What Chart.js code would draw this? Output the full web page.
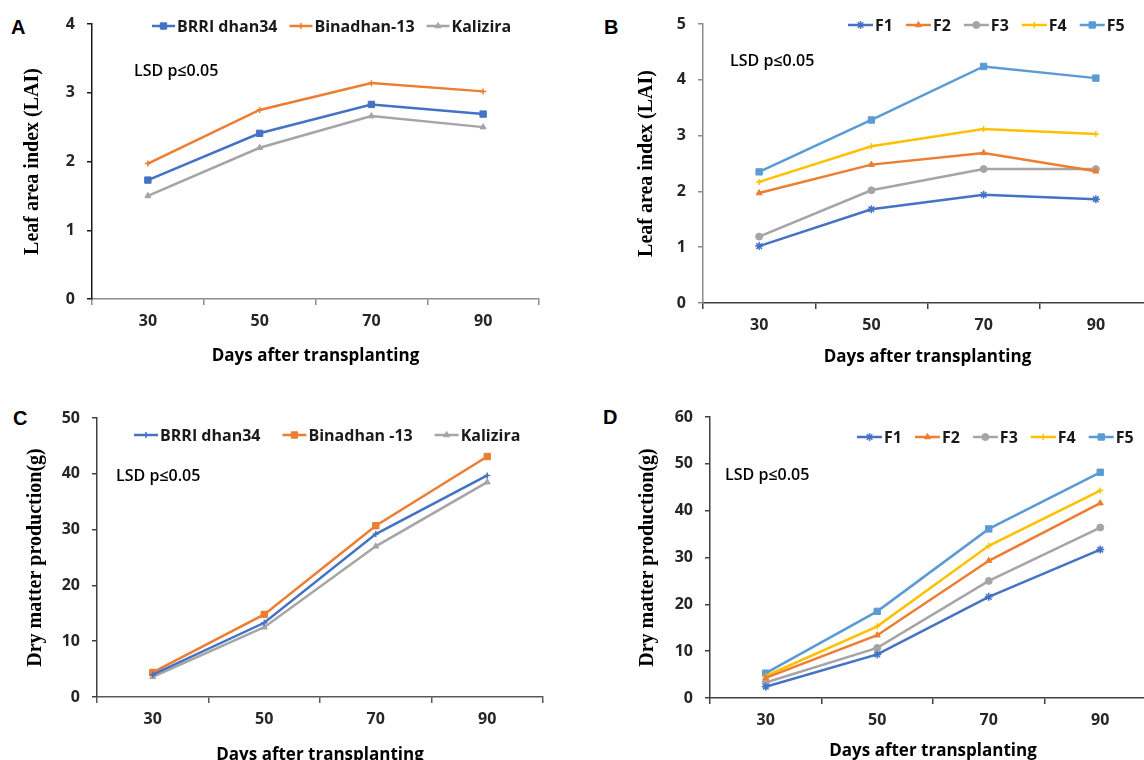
<!DOCTYPE html>
<html>
<head>
<meta charset="utf-8">
<title>Leaf area index and dry matter production</title>
<script src="https://cdn.jsdelivr.net/npm/chart.js"></script>
<style>
    html, body { margin: 0; padding: 0; background: #fff; }
    body { width: 1144px; height: 760px; overflow: hidden; position: relative; }
    canvas { position: absolute; }
    .panel-letter { position: absolute; font: bold 20px "Liberation Sans", Arial, sans-serif; color: #000; line-height: 22px; }
</style>
</head>
<body>
<div class="panel-letter" style="left:11px; top:16px;">A</div>
<div class="panel-letter" style="left:604px; top:16px;">B</div>
<div class="panel-letter" style="left:13px; top:407px;">C</div>
<div class="panel-letter" style="left:603px; top:406px;">D</div>

<canvas id="chartA" width="548" height="369" style="left:0; top:0;"></canvas>
<canvas id="chartB" width="540" height="370" style="left:620px; top:0;"></canvas>
<canvas id="chartC" width="552" height="378" style="left:0; top:390px;"></canvas>
<canvas id="chartD" width="544" height="374" style="left:620px; top:390px;"></canvas>

<script>
// categories (days after transplanting)
const days = ["30", "50", "70", "90"];

// legend names
const varietiesLai = ["BRRI dhan34", "Binadhan-13", "Kalizira"];
const varietiesDm = ["BRRI dhan34", "Binadhan -13", "Kalizira"];
const fertNames = ["F1", "F2", "F3", "F4", "F5"];

// A: leaf area index by variety
const laiBrri = [1.73, 2.41, 2.83, 2.69];
const laiBina = [1.97, 2.75, 3.14, 3.02];
const laiKali = [1.50, 2.20, 2.66, 2.50];

// B: leaf area index by fertilizer
const laiF1 = [1.02, 1.68, 1.94, 1.86];
const laiF2 = [1.97, 2.48, 2.69, 2.36];
const laiF3 = [1.19, 2.02, 2.40, 2.40];
const laiF4 = [2.17, 2.81, 3.12, 3.03];
const laiF5 = [2.35, 3.28, 4.24, 4.03];

// C: dry matter by variety
const dmBrri = [4.0, 13.3, 29.2, 39.7];
const dmBina = [4.4, 14.8, 30.7, 43.1];
const dmKali = [3.6, 12.5, 27.0, 38.5];

// D: dry matter by fertilizer
const dmF1 = [2.4, 9.3, 21.6, 31.7];
const dmF2 = [4.3, 13.4, 29.3, 41.6];
const dmF3 = [3.3, 10.7, 25.0, 36.4];
const dmF4 = [4.7, 15.3, 32.5, 44.3];
const dmF5 = [5.3, 18.5, 36.1, 48.2];

// y tick labels
const ticksA = [0, 1, 2, 3, 4];
const ticksB = [0, 1, 2, 3, 4, 5];
const ticksC = [0, 10, 20, 30, 40, 50];
const ticksD = [0, 10, 20, 30, 40, 50, 60];

const noteText = "LSD p\u22640.05";
const xTitle = "Days after transplanting";

const colors = {
    blue: "#4472C4",
    orange: "#ED7D31",
    gray: "#A5A5A5",
    yellow: "#FFC000",
    sky: "#5B9BD5"
};

const sansFont = '"Open Sans", "Noto Sans", sans-serif';
const serifFont = '"Liberation Serif", "Times New Roman", serif';

function series(label, data, color, style, radius) {
    const thin = style === "cross" || style === "star";
    return {
        label: label,
        data: data,
        borderColor: color,
        backgroundColor: color,
        pointBackgroundColor: color,
        pointBorderColor: color,
        pointStyle: style,
        pointRadius: radius,
        pointBorderWidth: thin ? 1.5 : 1,
        borderWidth: 2.5,
        tension: 0,
        fill: false
    };
}

// note text + legend with line and marker, drawn inside the plot area
const overlay = {
    id: "overlay",
    afterDraw: function(chart, args, opts) {
        const ctx = chart.ctx;
        const area = chart.chartArea;
        ctx.save();

        ctx.fillStyle = "#000";
        ctx.textBaseline = "middle";
        ctx.textAlign = "left";
        ctx.font = "600 16px " + sansFont;
        ctx.fillText(noteText, area.left + opts.noteX, area.top + opts.noteY);

        ctx.font = "bold 16px " + sansFont;
        let x = area.left + opts.legX;
        const y = area.top + opts.legY;
        chart.data.datasets.forEach(function(ds) {
            ctx.strokeStyle = ds.borderColor;
            ctx.fillStyle = ds.borderColor;
            ctx.lineWidth = 2.5;
            ctx.beginPath();
            ctx.moveTo(x, y);
            ctx.lineTo(x + opts.lineLen, y);
            ctx.stroke();
            ctx.lineWidth = ds.pointBorderWidth;
            Chart.helpers.drawPoint(ctx, {
                pointStyle: ds.pointStyle,
                radius: ds.pointRadius,
                borderWidth: ds.pointBorderWidth,
                rotation: 0
            }, x + opts.lineLen / 2, y);
            x += opts.lineLen + 2;
            ctx.fillStyle = "#1a1a1a";
            ctx.fillText(ds.label, x, y + 1);
            x += ctx.measureText(ds.label).width + opts.gap;
        });
        ctx.restore();
    }
};

function buildChart(id, cfg) {
    const ticks = cfg.ticks;
    return new Chart(document.getElementById(id), {
        type: "line",
        data: {
            labels: days,
            datasets: cfg.datasets
        },
        options: {
            responsive: false,
            animation: false,
            layout: { padding: cfg.padding },
            plugins: {
                legend: { display: false },
                tooltip: { enabled: false },
                overlay: cfg.overlay
            },
            scales: {
                x: {
                    offset: true,
                    grid: {
                        offset: true,
                        drawOnChartArea: false,
                        drawTicks: true,
                        tickLength: 6,
                        color: cfg.xColor,
                        lineWidth: 1.5
                    },
                    border: { color: cfg.xColor, width: 1.5 },
                    ticks: {
                        color: "#262626",
                        padding: 7,
                        maxRotation: 0,
                        font: { family: sansFont, size: 16, weight: "bold" }
                    },
                    title: {
                        display: true,
                        text: xTitle,
                        color: "#000",
                        padding: { top: 0, bottom: 3 },
                        font: { family: sansFont, size: 17, weight: "bold" }
                    },
                    afterFit: function(scale) {
                        scale.height = cfg.xHeight;
                    }
                },
                y: {
                    min: ticks[0],
                    max: ticks[ticks.length - 1],
                    grid: {
                        drawOnChartArea: false,
                        drawTicks: true,
                        tickLength: 5,
                        color: cfg.yColor,
                        lineWidth: 1.5
                    },
                    border: { color: cfg.yColor, width: 1.5 },
                    ticks: {
                        stepSize: ticks[1] - ticks[0],
                        color: "#262626",
                        padding: 12,
                        font: { family: sansFont, size: 16, weight: "bold" }
                    },
                    title: {
                        display: true,
                        text: cfg.yTitle,
                        color: "#000",
                        padding: { top: cfg.yTitlePad, bottom: 0 },
                        font: { family: serifFont, size: 20, weight: "bold" }
                    },
                    afterFit: function(scale) {
                        scale.width = cfg.yWidth;
                    }
                }
            }
        },
        plugins: [overlay]
    });
}

document.addEventListener("DOMContentLoaded", function() {
    buildChart("chartA", {
        ticks: ticksA,
        yTitle: "Leaf area index (LAI)",
        padding: { left: 0, top: 24, right: 9, bottom: 0 },
        yWidth: 92,
        yTitlePad: 21,
        xHeight: 70,
        xColor: "#8c8c8c",
        yColor: "#1a1a1a",
        overlay: { noteX: 42, noteY: 47, legX: 60, legY: 2, lineLen: 23, gap: 12 },
        datasets: [
            series(varietiesLai[0], laiBrri, colors.blue, "rect", 4.5),
            series(varietiesLai[1], laiBina, colors.orange, "cross", 3),
            series(varietiesLai[2], laiKali, colors.gray, "triangle", 3.5)
        ]
    });

    buildChart("chartB", {
        ticks: ticksB,
        yTitle: "Leaf area index (LAI)",
        padding: { left: 0, top: 24, right: 8, bottom: 0 },
        yWidth: 83,
        yTitlePad: 15,
        xHeight: 67,
        xColor: "#404040",
        yColor: "#8c8c8c",
        overlay: { noteX: 27, noteY: 37, legX: 145, legY: 1, lineLen: 25, gap: 13 },
        datasets: [
            series(fertNames[0], laiF1, colors.blue, "star", 4),
            series(fertNames[1], laiF2, colors.orange, "triangle", 3.5),
            series(fertNames[2], laiF3, colors.gray, "circle", 3.5),
            series(fertNames[3], laiF4, colors.yellow, "cross", 3),
            series(fertNames[4], laiF5, colors.sky, "rect", 4.5)
        ]
    });

    buildChart("chartC", {
        ticks: ticksC,
        yTitle: "Dry matter production(g)",
        padding: { left: 0, top: 28, right: 9, bottom: 0 },
        yWidth: 97,
        yTitlePad: 24,
        xHeight: 71,
        xColor: "#595959",
        yColor: "#404040",
        overlay: { noteX: 19, noteY: 58, legX: 37, legY: 17, lineLen: 24, gap: 22 },
        datasets: [
            series(varietiesDm[0], dmBrri, colors.blue, "cross", 3),
            series(varietiesDm[1], dmBina, colors.orange, "rect", 4.5),
            series(varietiesDm[2], dmKali, colors.gray, "triangle", 3.5)
        ]
    });

    buildChart("chartD", {
        ticks: ticksD,
        yTitle: "Dry matter production(g)",
        padding: { left: 0, top: 27, right: 8, bottom: 0 },
        yWidth: 90,
        yTitlePad: 16,
        xHeight: 66,
        xColor: "#404040",
        yColor: "#404040",
        overlay: { noteX: 15, noteY: 58, legX: 147, legY: 20, lineLen: 25, gap: 13 },
        datasets: [
            series(fertNames[0], dmF1, colors.blue, "star", 4),
            series(fertNames[1], dmF2, colors.orange, "triangle", 3.5),
            series(fertNames[2], dmF3, colors.gray, "circle", 3.5),
            series(fertNames[3], dmF4, colors.yellow, "cross", 3),
            series(fertNames[4], dmF5, colors.sky, "rect", 4.5)
        ]
    });
});
</script>
</body>
</html>
